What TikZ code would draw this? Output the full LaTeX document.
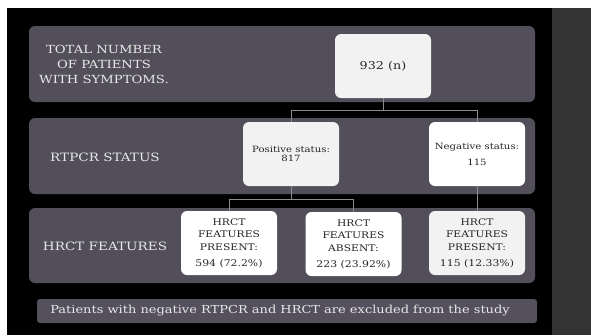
\documentclass[tikz,border=0pt]{standalone}
\usepackage{fontspec}
\setmainfont[FakeStretch=1.18]{DejaVu Serif}
\definecolor{bandc}{RGB}{82,78,90}
\definecolor{footc}{RGB}{84,80,93}
\definecolor{stripc}{RGB}{51,51,51}
\definecolor{boxlight}{RGB}{242,242,242}
\definecolor{linec}{RGB}{140,140,140}
\definecolor{labc}{RGB}{232,232,232}
\newcommand{\capf}{\fontsize{9.1}{12.5}\selectfont}
\newcommand{\numf}{\fontsize{9.2}{12.5}\selectfont}
\tikzset{
  band/.style={fill=bandc, rounded corners=6pt},
  infobox/.style={rounded corners=6pt, minimum width=96pt, minimum height=64pt, inner sep=1pt, align=center, text=black!85, font=\capf},
  wbox/.style={infobox, fill=white},
  gbox/.style={infobox, fill=boxlight},
  lab/.style={text=labc, align=center},
  conn/.style={draw=linec, line width=0.6pt}
}
\begin{document}
\begin{tikzpicture}[x=1pt,y=-1pt]
\useasboundingbox (0,0) rectangle (591,335);
\fill[white] (0,0) rectangle (591,335);
\fill[black] (7,8) rectangle (552,335);
\fill[stripc] (552,8) rectangle (591,335);
% bands
\fill[band] (29,26) rectangle (535,102);
\fill[band] (29,118) rectangle (535,194);
\fill[band] (29,208) rectangle (535,283);
\fill[footc, rounded corners=3pt] (37,299) rectangle (537,323);
% labels
\node[lab, font=\fontsize{11.2}{15}\selectfont] (l1) at (104,64) {TOTAL NUMBER\\OF PATIENTS\\WITH SYMPTOMS.};
\node[lab, font=\fontsize{11.5}{13}\selectfont] (l2) at (105,157) {RTPCR STATUS};
\node[lab, font=\fontsize{11.5}{13}\selectfont] (l3) at (105,246) {HRCT FEATURES};
\node[lab, font=\fontsize{11}{12}\selectfont] (l4) at (280,311) {Patients with negative RTPCR and HRCT are excluded from the study};
% boxes
\node[gbox, font=\fontsize{10.8}{12}\selectfont] (n932) at (383,66) {932 (n)};
\node[gbox, font=\fontsize{8.6}{9.5}\selectfont] (pos) at (291,154) {Positive status:\\817};
\node[wbox, font=\fontsize{8.6}{16}\selectfont] (neg) at (477,154) {Negative status:\\115};
\node[wbox] (h1) at (229,243) {HRCT\\FEATURES\\PRESENT:\\[3.5pt]\numf 594 (72.2\%)};
\node[wbox] (h2) at (353.5,244) {HRCT\\FEATURES\\ABSENT:\\[3.5pt]\numf 223 (23.92\%)};
\node[gbox] (h3) at (477,243) {HRCT\\FEATURES\\PRESENT:\\[3.5pt]\numf 115 (12.33\%)};
% connectors
\coordinate (j1) at (383,110);
\coordinate (j2) at (291,199);
\draw[conn] (n932.south) -- (j1) -| (pos.north);
\draw[conn] (j1) -| (neg.north);
\draw[conn] (pos.south) -- (j2) -| (h1.north);
\draw[conn] (j2) -| (h2.north);
\draw[conn] (neg.south) -- (h3.north);
\end{tikzpicture}
\end{document}
